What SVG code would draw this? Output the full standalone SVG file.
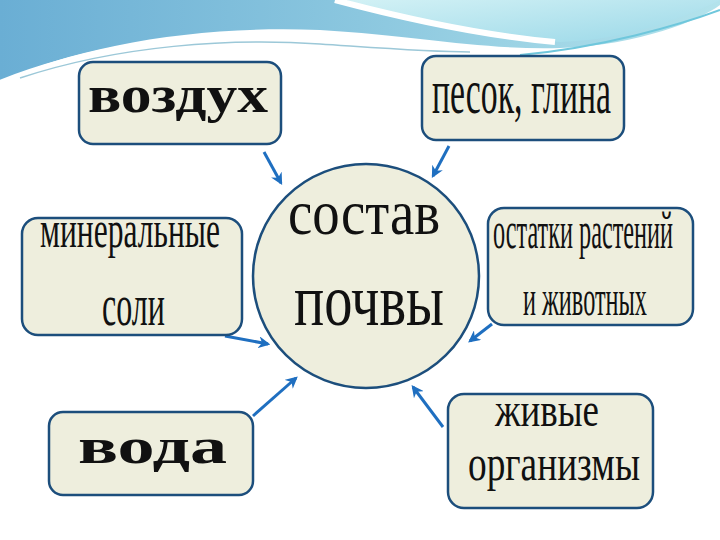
<svg xmlns="http://www.w3.org/2000/svg" width="720" height="540" viewBox="0 0 720 540">
<style>
.box{fill:#eeeedd;stroke:#1c4e7c;stroke-width:2.5}
.t{font-family:"Liberation Serif","Times New Roman",serif;fill:#111}
.b{font-weight:bold}
.arr{stroke:#1f6fc0;stroke-width:3;fill:none;marker-end:url(#ah)}
</style>
<defs>
<linearGradient id="bg1" x1="0" y1="0" x2="1" y2="0">
<stop offset="0" stop-color="#6aaed4"/>
<stop offset="0.5" stop-color="#8bc7df"/>
<stop offset="1" stop-color="#b3e3ec"/>
</linearGradient>
<linearGradient id="bg2" x1="0" y1="0" x2="1" y2="1">
<stop offset="0" stop-color="#d2f1f5"/>
<stop offset="1" stop-color="#9ad8e8"/>
</linearGradient>
<marker id="ah" viewBox="0 0 10 10" refX="8" refY="5" markerWidth="4" markerHeight="4" orient="auto" markerUnits="strokeWidth">
<path d="M0,0 L10,5 L0,10 L3,5 Z" fill="#1f6fc0"/>
</marker>
</defs>
<rect width="720" height="540" fill="#ffffff"/>
<g id="background">
<path d="M0,0 H720 V5 C700,20 640,45 560,48 C480,50 420,36 320,30 C200,25 80,45 0,82 Z" fill="url(#bg1)"/>
<path d="M345,0 C420,22 500,38 560,42 C630,40 690,15 720,0 Z" fill="url(#bg2)"/>
<path d="M335,0 C410,20 490,36 555,42" stroke="#ffffff" stroke-width="6" fill="none"/>
<path d="M0,84 C80,52 180,36 270,34" stroke="#ffffff" stroke-width="8" fill="none"/>
<path d="M20,78 C120,45 230,38 320,44 C380,48 430,52 470,52" stroke="#9cc8d8" stroke-width="1.5" fill="none"/>
<path d="M520,55 C600,48 680,25 720,10" stroke="#6fc7dc" stroke-width="2" fill="none"/>
</g>
<g id="connectors">
<line class="arr" x1="264" y1="152" x2="281" y2="183"/>
<line class="arr" x1="449" y1="146" x2="433" y2="176"/>
<line class="arr" x1="225" y1="336" x2="268" y2="344"/>
<line class="arr" x1="253" y1="416" x2="296" y2="378"/>
<line class="arr" x1="492" y1="324" x2="470" y2="341"/>
<line class="arr" x1="443" y1="427" x2="413" y2="387"/>
</g>
<g id="center">
<ellipse class="box" cx="366" cy="276" rx="113" ry="112"/>
<text class="t" x="288" y="234" font-size="64" textLength="152" lengthAdjust="spacingAndGlyphs">состав</text>
<text class="t" x="294" y="325" font-size="74" textLength="150" lengthAdjust="spacingAndGlyphs">почвы</text>
</g>
<g id="vozduh">
<rect class="box" x="79" y="62" width="202" height="82" rx="14"/>
<text class="t b" x="88" y="112" font-size="52" textLength="180" lengthAdjust="spacingAndGlyphs">воздух</text>
</g>
<g id="pesok">
<rect class="box" x="422" y="56" width="202" height="84" rx="14"/>
<text class="t" x="432" y="113" font-size="64" textLength="179" lengthAdjust="spacingAndGlyphs">песок, глина</text>
</g>
<g id="mineral">
<rect class="box" x="22" y="218" width="220" height="117" rx="16"/>
<text class="t" x="40" y="247" font-size="52" textLength="180" lengthAdjust="spacingAndGlyphs">минеральные</text>
<text class="t" x="102" y="325" font-size="60" textLength="63" lengthAdjust="spacingAndGlyphs">соли</text>
</g>
<g id="ostatki">
<rect class="box" x="488" y="208" width="205" height="117" rx="16"/>
<text class="t" x="493" y="248" font-size="52" textLength="180" lengthAdjust="spacingAndGlyphs">остатки растений</text>
<text class="t" x="523" y="315" font-size="50" textLength="124" lengthAdjust="spacingAndGlyphs">и животных</text>
</g>
<g id="voda">
<rect class="box" x="49" y="412" width="204" height="83" rx="14"/>
<text class="t b" x="78" y="463" font-size="50" textLength="149" lengthAdjust="spacingAndGlyphs">вода</text>
</g>
<g id="zhivye">
<rect class="box" x="448" y="394" width="205" height="114" rx="16"/>
<text class="t" x="495" y="426" font-size="48" textLength="104" lengthAdjust="spacingAndGlyphs">живые</text>
<text class="t" x="468" y="480" font-size="50" textLength="172" lengthAdjust="spacingAndGlyphs">организмы</text>
</g>
</svg>
